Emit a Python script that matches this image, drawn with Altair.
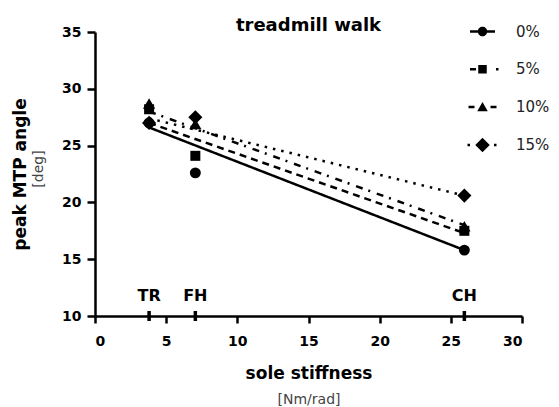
import altair as alt
import pandas as pd

# ---------------- data ----------------
series = ["0%", "5%", "10%", "15%"]
shoes = ["TR", "FH", "CH"]
stiffness = [3.8, 7.05, 25.95]          # sole stiffness [Nm/rad] of TR, FH, CH
angle_0 = [27.0, 22.6, 15.8]
angle_5 = [28.2, 24.1, 17.5]
angle_10 = [28.7, 26.9, 17.9]
angle_15 = [27.0, 27.5, 20.6]
fit_start = [26.6, 28.0, 27.0, 27.4]    # fitted line value at TR stiffness
fit_end = [15.8, 18.0, 17.3, 20.6]      # fitted line value at CH stiffness
x_ticks = [0, 5, 10, 15, 20, 25, 30]
y_ticks = [10, 15, 20, 25, 30, 35]
title_text = "treadmill walk"
x_title = "sole stiffness"
y_title = "peak MTP angle"
x_unit = "[Nm/rad]"
y_unit = "[deg]"

# ---------------- styles ----------------
shapes = ["circle", "square", "triangle-up", "diamond"]
sizes = [120, 100, 150, 200]
dashes = [[1, 0], [7, 6, 2, 7], [7, 5], [2.5, 6]]
legend_paths = [
    "M-2.5,-0.25H-0.8V0.25H-2.5Z M0.8,-0.25H2.5V0.25H0.8Z M0.95,0A0.95,0.95,0,1,1,-0.95,0A0.95,0.95,0,1,1,0.95,0Z",
    "M-2.5,-0.25H-1.3V0.25H-2.5Z M-0.85,-0.85H0.85V0.85H-0.85Z M2.7,-0.25H3.2V0.25H2.7Z",
    "M-2.8,-0.25H-1.6V0.25H-2.8Z M0,-1L1.05,0.85H-1.05Z M1.6,-0.25H2.8V0.25H1.6Z",
    "M-3.0,-0.25H-2.5V0.25H-3.0Z M0,-1.45L1.45,0L0,1.45L-1.45,0Z M2.3,-0.25H2.8V0.25H2.3Z",
]
FONT = "DejaVu Sans"

angles = [angle_0, angle_5, angle_10, angle_15]
points = pd.DataFrame(
    [
        {"series": s, "stiffness": x, "angle": a}
        for s, vals in zip(series, angles)
        for x, a in zip(stiffness, vals)
    ]
)
fits = pd.DataFrame(
    [{"series": s, "stiffness": stiffness[0], "angle": v} for s, v in zip(series, fit_start)]
    + [{"series": s, "stiffness": stiffness[-1], "angle": v} for s, v in zip(series, fit_end)]
)
shoe_df = pd.DataFrame({"shoe": shoes, "stiffness": stiffness})

x_enc = alt.X(
    "stiffness:Q",
    scale=alt.Scale(domain=[0, 30], nice=False),
    axis=alt.Axis(values=x_ticks, title=x_title),
)
y_enc = alt.Y(
    "angle:Q",
    scale=alt.Scale(domain=[10, 35], nice=False, zero=False),
    axis=alt.Axis(values=y_ticks, title=y_title),
)

lines = (
    alt.Chart(fits)
    .mark_line(color="black", strokeWidth=2.5)
    .encode(
        x=x_enc,
        y=y_enc,
        detail="series:N",
        strokeDash=alt.StrokeDash(
            "series:N", scale=alt.Scale(domain=series, range=dashes), legend=None
        ),
    )
)

point_layers = [
    alt.Chart(points)
    .transform_filter(alt.datum.series == s)
    .mark_point(filled=True, color="black", opacity=1, shape=shp, size=sz)
    .encode(x="stiffness:Q", y="angle:Q")
    for s, shp, sz in zip(series, shapes, sizes)
]

# legend-only layer: shape scale whose symbols show marker + line style
legend_layer = (
    alt.Chart(points)
    .mark_point(filled=True, color="black", opacity=0, size=0)
    .encode(
        x="stiffness:Q",
        y="angle:Q",
        shape=alt.Shape(
            "series:N",
            scale=alt.Scale(domain=series, range=legend_paths),
            legend=alt.Legend(
                title=None,
                orient="none",
                legendX=380,
                legendY=-8,
                symbolSize=100,
                labelOffset=26,
                rowPadding=21.8,
                padding=0,
                labelFont=FONT,
                labelFontSize=15,
                labelColor="#222",
                symbolFillColor="black",
                symbolStrokeWidth=0,
                symbolOpacity=1,
            ),
        ),
    )
)

shoe_ticks = (
    alt.Chart(shoe_df)
    .mark_rule(color="black", strokeWidth=3.5)
    .encode(x="stiffness:Q", y=alt.value(279), y2=alt.value(289))
)
shoe_labels = (
    alt.Chart(shoe_df)
    .mark_text(font=FONT, fontSize=16, fontWeight="bold", color="black", baseline="middle")
    .encode(x="stiffness:Q", y=alt.value(264), text="shoe:N")
)

x_unit_text = (
    alt.Chart(pd.DataFrame({"u": [x_unit]}))
    .mark_text(font=FONT, fontSize=14, color="#444", baseline="middle")
    .encode(x=alt.value(214), y=alt.value(368), text="u:N")
)
y_unit_text = (
    alt.Chart(pd.DataFrame({"u": [y_unit]}))
    .mark_text(font=FONT, fontSize=14, color="#444", baseline="middle", angle=270)
    .encode(x=alt.value(-56), y=alt.value(137), text="u:N")
)

chart = (
    alt.layer(lines, *point_layers, legend_layer, shoe_ticks, shoe_labels, x_unit_text, y_unit_text)
    .resolve_scale(shape="independent")
    .properties(
        width=427,
        height=284,
        title=alt.TitleParams(
            title_text,
            anchor="middle",
            frame="group",
            baseline="alphabetic",
            offset=-25,
            font=FONT,
            fontSize=18,
            fontWeight="bold",
            color="black",
        ),
        autosize=alt.AutoSizeParams(type="none"),
        padding={"left": 87, "top": 24, "right": 29, "bottom": 93},
    )
    .configure_view(stroke=None)
    .configure_axis(
        grid=False,
        domainColor="black",
        domainWidth=2.5,
        tickColor="black",
        tickWidth=2.5,
        labelFont=FONT,
        labelFontSize=14,
        labelFontWeight="bold",
        labelColor="black",
        titleFont=FONT,
        titleFontSize=17,
        titleFontWeight="bold",
        titleColor="black",
    )
    .configure_axisX(tickSize=7, labelPadding=11, titlePadding=17)
    .configure_axisY(tickSize=8, labelPadding=6, titlePadding=32)
)

chart.save("out.html", embed_options={"renderer": "svg", "actions": False})
